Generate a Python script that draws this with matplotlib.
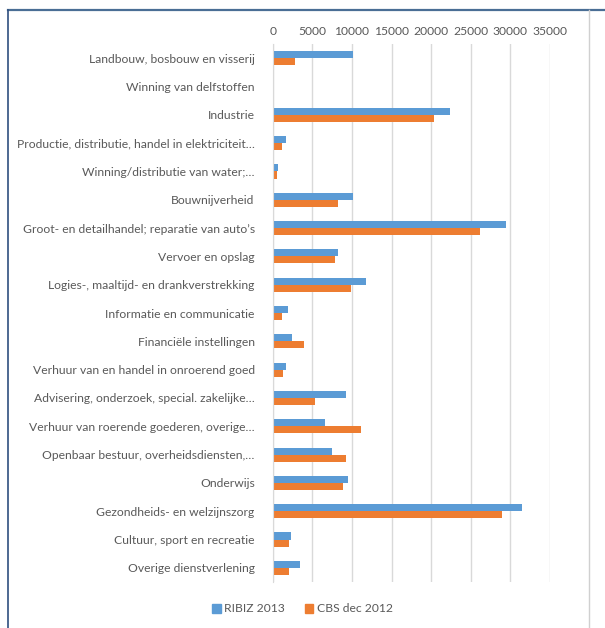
#!/usr/bin/env python3
"""Horizontal grouped bar chart: RIBIZ 2013 vs CBS dec 2012 per sector."""

import numpy as np
import matplotlib

matplotlib.use("Agg")
import matplotlib.pyplot as plt
from matplotlib.lines import Line2D
from matplotlib.patches import Patch

sectors = [
    "Landbouw, bosbouw en visserij",
    "Winning van delfstoffen",
    "Industrie",
    "Productie, distributie, handel in elektriciteit…",
    "Winning/distributie van water;…",
    "Bouwnijverheid",
    "Groot- en detailhandel; reparatie van auto’s",
    "Vervoer en opslag",
    "Logies-, maaltijd- en drankverstrekking",
    "Informatie en communicatie",
    "Financiële instellingen",
    "Verhuur van en handel in onroerend goed",
    "Advisering, onderzoek, special. zakelijke…",
    "Verhuur van roerende goederen, overige…",
    "Openbaar bestuur, overheidsdiensten,…",
    "Onderwijs",
    "Gezondheids- en welzijnszorg",
    "Cultuur, sport en recreatie",
    "Overige dienstverlening",
]

ribiz_2013 = [10100, 60, 22400, 1650, 680, 10150, 29450, 8250, 11800, 1900,
              2400, 1700, 9200, 6650, 7500, 9550, 31500, 2300, 3450]
cbs_2012 = [2850, 40, 20350, 1200, 520, 8250, 26150, 7850, 9850, 1200,
            3950, 1300, 5300, 11150, 9250, 8900, 28900, 2050, 2000]

xticks = [0, 5000, 10000, 15000, 20000, 25000, 30000, 35000]

BLUE = "#5B9BD5"
ORANGE = "#ED7D31"
TEXT = "#595959"
FS = 8.7

plt.rcParams["font.family"] = ["Lato", "DejaVu Sans"]

fig = plt.figure(figsize=(6.05, 6.28), dpi=100)
ax = fig.add_axes([272.7 / 605, 1 - 582 / 628, (550 - 272.7) / 605, (582 - 44) / 628])

n = len(sectors)
y = np.arange(n)
h = 0.25
ax.barh(y - h / 2, ribiz_2013, height=h, color=BLUE, label="RIBIZ 2013", zorder=3)
ax.barh(y + h / 2, cbs_2012, height=h, color=ORANGE, label="CBS dec 2012", zorder=3)

ax.set_ylim(n - 0.5, -0.5)
ax.set_xlim(0, 35000)
ax.set_yticks(y)
ax.set_yticklabels(sectors, fontsize=FS, color=TEXT)
ax.set_xticks(xticks)
ax.set_xticklabels([str(t) for t in xticks], fontsize=FS, color=TEXT)
ax.xaxis.tick_top()
ax.tick_params(axis="x", length=0, pad=5)
ax.tick_params(axis="y", length=0, pad=13)
ax.grid(axis="x", color="#D9D9D9", linewidth=1.0, zorder=0)
for side in ("top", "right", "bottom"):
    ax.spines[side].set_visible(False)
ax.spines["left"].set_color("#D9D9D9")
ax.spines["left"].set_zorder(4)

handles = [Patch(color=BLUE, label="RIBIZ 2013"), Patch(color=ORANGE, label="CBS dec 2012")]
fig.legend(handles=handles, loc="center", bbox_to_anchor=(0.5, 1 - 609 / 628), ncol=2,
           frameon=False, fontsize=FS, labelcolor=TEXT, handlelength=0.7, handleheight=0.7,
           handletextpad=0.3, columnspacing=1.6)

# chart frame
fig.add_artist(Line2D([8 / 605, 1], [1 - 10 / 628] * 2, color="#4A6E95", linewidth=1.6))
fig.add_artist(Line2D([8 / 605] * 2, [0, 1 - 10 / 628], color="#2F4F7F", linewidth=1.2))
fig.add_artist(Line2D([589 / 605] * 2, [0, 1 - 10 / 628], color="#D0D0D0", linewidth=1.0))

fig.savefig("out.png", dpi=100)
